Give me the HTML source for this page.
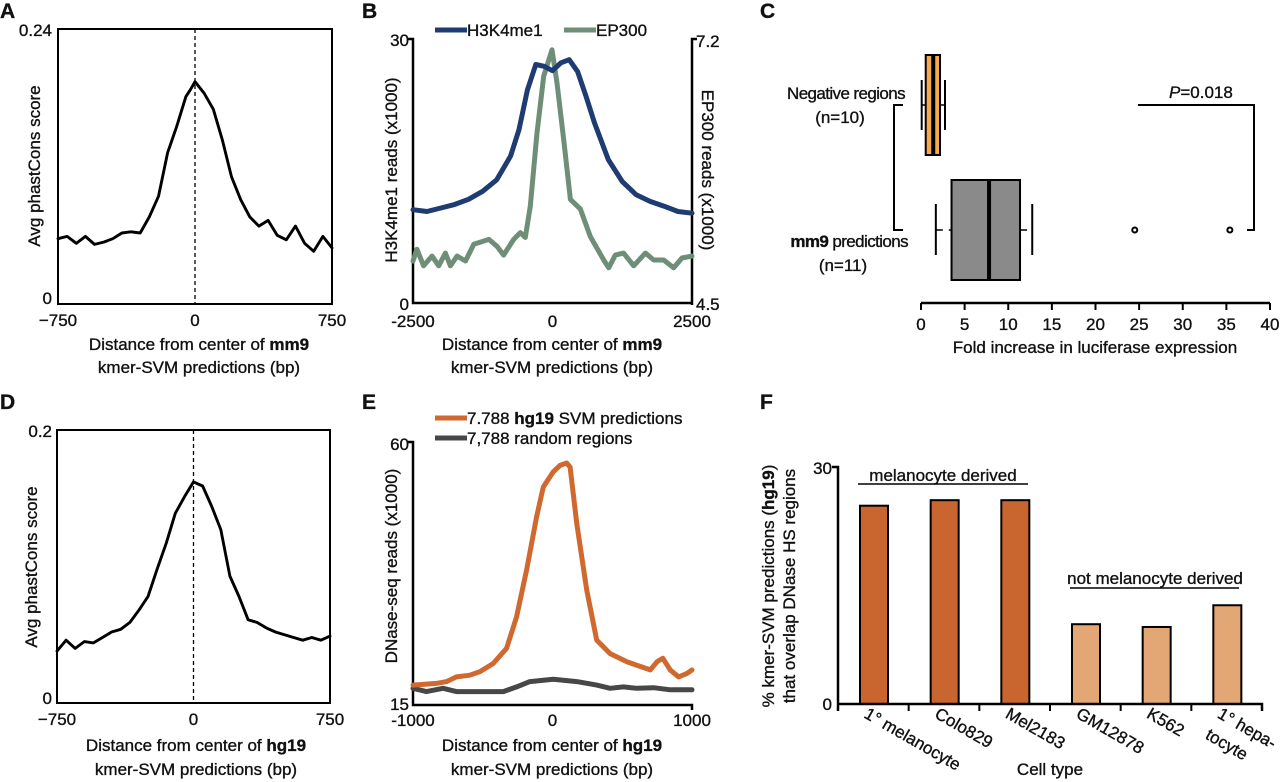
<!DOCTYPE html>
<html><head><meta charset="utf-8"><style>
html,body{margin:0;padding:0;background:#fff;width:1280px;height:782px;overflow:hidden}
svg{display:block;font-family:"Liberation Sans",Arial,sans-serif}
text{fill:#111;stroke:#111;stroke-width:0.35}
</style></head><body>
<svg id="fig" width="1280" height="782" viewBox="0 0 1280 782" xmlns="http://www.w3.org/2000/svg"></svg>
<script>
// ---- Panel A data ----
const aX = [-750,-700,-650,-600,-550,-500,-450,-400,-350,-300,-250,-200,-150,-100,-50,-25,0,50,100,150,200,250,300,350,400,450,500,550,600,650,700,750];
const aY = [0.057,0.059,0.053,0.059,0.052,0.054,0.057,0.062,0.063,0.062,0.076,0.094,0.132,0.155,0.181,0.187,0.194,0.184,0.17,0.143,0.111,0.091,0.076,0.068,0.073,0.06,0.056,0.068,0.053,0.046,0.059,0.049];
const aYTicks = ["0","0.24"];
const aXTicks = ["\u2212750","0","750"];
// ---- Panel D data ----
const dX = [-750,-700,-650,-600,-550,-500,-450,-400,-350,-300,-250,-200,-150,-100,-50,0,50,100,150,200,250,300,350,400,450,500,550,600,650,700,750];
const dY = [0.038,0.046,0.040,0.045,0.044,0.048,0.052,0.054,0.059,0.068,0.078,0.098,0.117,0.139,0.151,0.162,0.159,0.144,0.127,0.093,0.078,0.061,0.059,0.055,0.052,0.05,0.048,0.046,0.048,0.046,0.049];
// ---- Panel B data ----
const bHX = [-2500,-2250,-2000,-1750,-1500,-1250,-1000,-750,-600,-450,-300,-150,0,150,300,450,600,750,1000,1250,1500,1750,2000,2250,2500];
const bHY = [10.6,10.4,10.8,11.2,11.8,12.7,14.0,16.7,19.7,24.2,27.1,26.9,26.4,27.3,27.65,26.3,23.5,20.5,16.3,13.8,12.3,11.55,11.0,10.4,10.2];
const bEX = [-2500,-2430,-2310,-2160,-2040,-1920,-1830,-1710,-1560,-1410,-1140,-995,-876,-696,-577,-487,-397,-278,-158,-9,80,200,320,500,678,917,1007,1126,1275,1455,1664,1814,1993,2172,2321,2500];
const bEY = [4.93,5.05,4.88,4.98,4.88,5.01,4.88,4.98,4.93,5.10,5.15,5.08,4.99,5.15,5.22,5.17,5.49,6.24,6.82,7.09,6.75,6.17,5.56,5.46,5.18,4.94,4.86,4.99,5.01,4.88,5.01,4.94,4.94,4.86,4.96,4.98];
// ---- Panel E data ----
const eOX = [-1000,-832,-760,-689,-593,-521,-425,-329,-257,-186,-114,-66,6,54,102,126,174,245,317,413,533,629,701,749,791,844,904,964,1000];
const eOY = [18.4,18.7,19.0,19.8,20.1,20.7,22.1,24.7,30.1,38.1,47.2,52.3,54.9,56.0,56.4,55.7,46.0,34.7,26.1,23.8,22.4,21.6,21.0,22.4,23.0,21.0,19.8,20.4,21.0];
const eGX = [-1000,-904,-784,-689,-521,-353,-257,-162,6,174,317,413,509,605,725,844,1000];
const eGY = [17.85,17.3,17.85,17.3,17.3,17.3,18.1,19.0,19.4,19.0,18.4,17.85,18.1,17.85,17.96,17.6,17.6];
// ---- Panel C data ----
const cGroups = ["Negative regions","mm9 predictions"];
const cMin = [0.08,1.7];
const cQ1 = [0.54,3.5];
const cMed = [1.4,7.8];
const cQ3 = [2.18,11.35];
const cMax = [2.75,12.75];
const cOutliers = [[],[24.5,35.4]];
const cXTicks = [0,5,10,15,20,25,30,35,40];
// ---- Panel F data ----
const fCats = ["1\u00b0 melanocyte","Colo829","Mel2183","GM12878","K562","1\u00b0 hepa-"];
const fVals = [25.1,25.8,25.8,10.1,9.75,12.5];
const fGroup = [0,0,0,1,1,1];

const NS="http://www.w3.org/2000/svg";
const svg=document.getElementById('fig');
function el(tag,attrs,parent){const e=document.createElementNS(NS,tag);for(const k in attrs)e.setAttribute(k,attrs[k]);(parent||svg).appendChild(e);return e;}
function txt(s,x,y,size,opts){opts=opts||{};const t=el('text',{x:x,y:y,'font-size':size,'text-anchor':opts.anchor||'start'});if(opts.weight)t.setAttribute('font-weight',opts.weight);if(opts.rot)t.setAttribute('transform','rotate('+opts.rot+' '+x+' '+y+')');t.innerHTML=s;return t;}
function lin(d0,d1,r0,r1){return v=>r0+(v-d0)/(d1-d0)*(r1-r0);}
function path(xs,ys,sx,sy,stroke,w){let d='';for(let i=0;i<xs.length;i++)d+=(i?'L':'M')+sx(xs[i]).toFixed(1)+','+sy(ys[i]).toFixed(1);return el('path',{d:d,fill:'none',stroke:stroke,'stroke-width':w,'stroke-linejoin':'round','stroke-linecap':'round'});}

// Panel letters
const letters=[["A",0,18],["B",362,18],["C",760,18],["D",0,409],["E",362,409],["F",760,409]];
for(const l of letters){const t=txt(l[0],l[1],l[2],21,{weight:'bold'});

}

// ---- Panel A ----
{const x0=58,x1=332,yT=29,yB=304;
const sx=lin(-750,750,x0,x1),sy=lin(0,0.24,yB,yT);
const r=el('rect',{x:x0,y:yT,width:x1-x0,height:yB-yT,fill:'none',stroke:'#000','stroke-width':2});

const dl=el('line',{x1:sx(0),x2:sx(0),y1:yT,y2:yB,stroke:'#000','stroke-width':1.3,'stroke-dasharray':'4,3'});

const p=path(aX,aY,sx,sy,'#000',2.9);
txt(aYTicks[1],52,36,17,{anchor:'end'});txt(aYTicks[0],52,304,17,{anchor:'end'});
txt(aXTicks[0],sx(-750),326,17,{anchor:'middle'});txt(aXTicks[1],sx(0),326,17,{anchor:'middle'});txt(aXTicks[2],sx(750),326,17,{anchor:'middle'});
const yt=txt('Avg phastCons score',40,166,17,{anchor:'middle',rot:-90});
const xt=txt('Distance from center of <tspan font-weight="bold">mm9</tspan>',199,350,17,{anchor:'middle'});
txt('kmer-SVM predictions (bp)',199,373,17,{anchor:'middle'});}

// ---- Panel D ----
{const x0=57,x1=330,yT=430,yB=703;
const sx=lin(-750,750,x0,x1),sy=lin(0,0.2,yB,yT);
const r=el('rect',{x:x0,y:yT,width:x1-x0,height:yB-yT,fill:'none',stroke:'#000','stroke-width':2});

const dl=el('line',{x1:sx(0),x2:sx(0),y1:yT,y2:yB,stroke:'#000','stroke-width':1.3,'stroke-dasharray':'4,3'});

const p=path(dX,dY,sx,sy,'#000',2.9);
txt('0.2',52,437,17,{anchor:'end'});txt('0',52,704,17,{anchor:'end'});
txt('\u2212750',sx(-750),725,17,{anchor:'middle'});txt('0',sx(0),725,17,{anchor:'middle'});txt('750',sx(750),725,17,{anchor:'middle'});
const yt=txt('Avg phastCons score',37,567,17,{anchor:'middle',rot:-90});
const xt=txt('Distance from center of <tspan font-weight="bold">hg19</tspan>',196,751,17,{anchor:'middle'});
txt('kmer-SVM predictions (bp)',196,775,17,{anchor:'middle'});}

// ---- Panel B ----
{const x0=413,x1=692,yT=39,yB=303;
const sx=lin(-2500,2500,x0,x1),sy=lin(0,30,yB,yT),sy2=lin(4.5,7.2,yB,yT);
el('path',{d:`M${x0-5},${yT}H${x0}V${yB}H${x1}M${x1+5},${yT}H${x1}V${yB+2}`,fill:'none',stroke:'#000','stroke-width':2.5});
const pe=path(bEX,bEY,sx,sy2,'#6f8e77',5);
const ph=path(bHX,bHY,sx,sy,'#1e3c72',5);
txt('30',409,46,17,{anchor:'end'});txt('0',409,310,17,{anchor:'end'});
txt('7.2',696,47,17);txt('4.5',696,310,17);
txt('-2500',x0,327,17,{anchor:'middle'});txt('0',sx(0),327,17,{anchor:'middle'});txt('2500',x1,327,17,{anchor:'middle'});
const yt=txt('H3K4me1 reads (x1000)',397,170,17,{anchor:'middle',rot:-90});
const yt2=txt('EP300 reads (x1000)',702,170,17,{anchor:'middle',rot:90});
const xt=txt('Distance from center of <tspan font-weight="bold">mm9</tspan>',552,350,17,{anchor:'middle'});
txt('kmer-SVM predictions (bp)',552,373,17,{anchor:'middle'});
const g=el('g',{});
el('line',{x1:435,x2:467,y1:30,y2:30,stroke:'#1e3c72','stroke-width':5},g);txt('H3K4me1',467,36,17);
el('line',{x1:564,x2:596,y1:30,y2:30,stroke:'#6f8e77','stroke-width':5},g);txt('EP300',596,36,17);}

// ---- Panel E ----
{const x0=413,x1=692,yT=442,yB=705;
const sx=lin(-1000,1000,x0,x1),sy=lin(15,60,yB,yT);
el('path',{d:`M${x0-5},${yT}H${x0}V${yB}H${x1}V${yB+5}`,fill:'none',stroke:'#000','stroke-width':2.5});
const pg=path(eGX,eGY,sx,sy,'#474747',5);
const po=path(eOX,eOY,sx,sy,'#d0692f',5);
txt('60',409,450,17,{anchor:'end'});txt('15',409,710,17,{anchor:'end'});
txt('-1000',x0,726,17,{anchor:'middle'});txt('0',sx(0),726,17,{anchor:'middle'});txt('1000',x1,726,17,{anchor:'middle'});
const yt=txt('DNase-seq reads (x1000)',397,566,17,{anchor:'middle',rot:-90});
const xt=txt('Distance from center of <tspan font-weight="bold">hg19</tspan>',552,751,17,{anchor:'middle'});
txt('kmer-SVM predictions (bp)',552,775,17,{anchor:'middle'});
const g=el('g',{});
el('line',{x1:435,x2:467,y1:418,y2:418,stroke:'#d0692f','stroke-width':5},g);txt('7.788 <tspan font-weight="bold">hg19</tspan> SVM predictions',467,424,17);
el('line',{x1:435,x2:467,y1:438,y2:438,stroke:'#474747','stroke-width':5},g);txt('7,788 random regions',467,444,17);}

// ---- Panel C ----
{const sx=lin(0,40,921,1270),axY=303;
const boxY=[[55,155],[180,280]],midY=[105,230],whY=[[80,130],[204,255]];
const fills=['#f5aa4c','#8a8a8a'];
el('line',{x1:921,x2:1270,y1:axY,y2:axY,stroke:'#000','stroke-width':2.5});
for(const t of cXTicks){el('line',{x1:sx(t),x2:sx(t),y1:axY,y2:axY+7,stroke:'#000','stroke-width':2});
const tl=txt(String(t),sx(t),330,17,{anchor:'middle'});}
const xt=txt('Fold increase in luciferase expression',1095,353,17,{anchor:'middle'});
for(let i=0;i<cGroups.length;i++){
 const g=el('g',{});
 el('line',{x1:sx(cMin[i]),x2:sx(cMin[i]),y1:whY[i][0],y2:whY[i][1],stroke:'#000','stroke-width':2},g);
 el('line',{x1:sx(cMax[i]),x2:sx(cMax[i]),y1:whY[i][0],y2:whY[i][1],stroke:'#000','stroke-width':2},g);
 el('line',{x1:sx(cMin[i]),x2:sx(cQ1[i]),y1:midY[i],y2:midY[i],stroke:'#000','stroke-width':1.5,'stroke-dasharray':'7,6'},g);
 el('line',{x1:sx(cQ3[i]),x2:sx(cMax[i]),y1:midY[i],y2:midY[i],stroke:'#000','stroke-width':1.5,'stroke-dasharray':'7,6'},g);
 el('rect',{x:sx(cQ1[i]),y:boxY[i][0],width:sx(cQ3[i])-sx(cQ1[i]),height:boxY[i][1]-boxY[i][0],fill:fills[i],stroke:'#000','stroke-width':2},g);
 el('line',{x1:sx(cMed[i]),x2:sx(cMed[i]),y1:boxY[i][0],y2:boxY[i][1],stroke:'#000','stroke-width':4},g);
 for(const o of cOutliers[i]){el('circle',{cx:sx(o),cy:midY[i],r:2.5,fill:'#fff',stroke:'#000','stroke-width':2},g);}
}
const l1=txt('Negative regions',905,99,17,{anchor:'end'});l1.setAttribute('letter-spacing','-0.6');
txt('(n=10)',840,123,17,{anchor:'middle'});
const l2=txt('<tspan font-weight="bold">mm9</tspan> predictions',908,247,17,{anchor:'end'});l2.setAttribute('letter-spacing','-0.6');
txt('(n=11)',843,271,17,{anchor:'middle'});
el('path',{d:'M903,105H894V230H903',fill:'none',stroke:'#000','stroke-width':2});
el('path',{d:'M1138,105H1254V230H1247',fill:'none',stroke:'#000','stroke-width':2});
const pv=txt('<tspan font-style="italic">P</tspan>=0.018',1169,98,17);}

// ---- Panel F ----
{const x0=838,x1=1262,yT=467,yB=704;
const sy=lin(0,30,yB,yT),bw=(x1-x0)/fCats.length;
const cols=['#c9652f','#e3a675'];
for(let i=0;i<fCats.length;i++){
 const r=el('rect',{x:x0+bw*i+22,y:sy(fVals[i]),width:28,height:yB-sy(fVals[i]),fill:cols[fGroup[i]],stroke:'#000','stroke-width':2});
 
 
 el('line',{x1:x0+bw*(i+1),x2:x0+bw*(i+1),y1:yB,y2:yB+7,stroke:'#000','stroke-width':2});
 const t=txt(fCats[i],x0+bw*i+25,717,17,{rot:30});
 
 
}
txt('tocyte',x0+bw*5+13,738,17,{rot:30});
el('path',{d:`M${x0-6},${yT}H${x0}V${yB}H${x1}V${yB+7}M${x0},${yB}V${yB+7}`,fill:'none',stroke:'#000','stroke-width':2.5});
txt('30',832,474,17,{anchor:'end'});txt('0',832,710,17,{anchor:'end'});
const g1=txt('melanocyte derived',943,481,17,{anchor:'middle'});
el('line',{x1:858,x2:1028,y1:484,y2:484,stroke:'#000','stroke-width':1.5});
const g2=txt('not melanocyte derived',1155,584,17,{anchor:'middle'});
el('line',{x1:1070,x2:1239,y1:588,y2:588,stroke:'#000','stroke-width':1.5});
const yt=txt('% kmer-SVM predictions (<tspan font-weight="bold">hg19</tspan>)',774,586,17,{anchor:'middle',rot:-90});
txt('that overlap DNase HS regions',795,586,17,{anchor:'middle',rot:-90});
const xt=txt('Cell type',1050,775,17,{anchor:'middle'});}
</script>
</body></html>
